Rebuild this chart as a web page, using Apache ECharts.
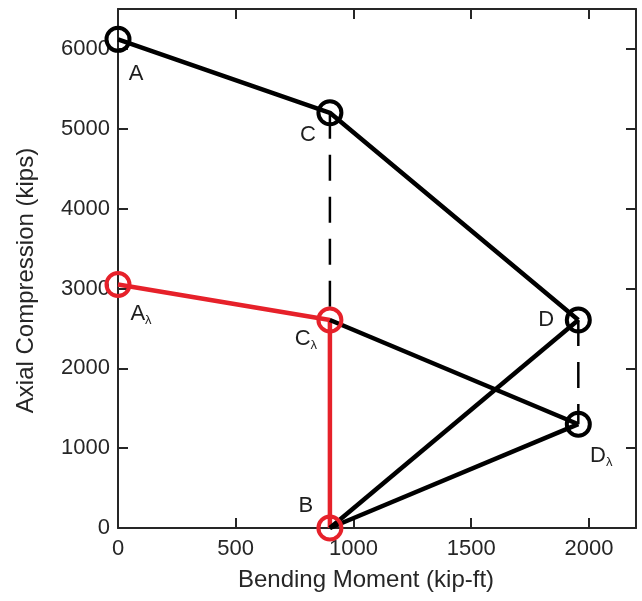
<!DOCTYPE html>
<html>
<head>
<meta charset="utf-8">
<script src="https://cdn.jsdelivr.net/npm/echarts@6/dist/echarts.min.js"></script>
<style>html,body{margin:0;padding:0;background:#fff;}#c{width:642px;height:601px;}</style>
</head>
<body>
<div id="c"></div>
<script>
// Points (Bending Moment kip-ft, Axial Compression kips)
const ptA  = [0, 6120];
const ptC  = [900, 5200];
const ptD  = [1955, 2605];
const ptDl = [1955, 1300];
const ptAl = [0, 3050];
const ptCl = [900, 2605];
const ptB  = [900, 0];

const blackPath1 = [ptA, ptC, ptD];
const blackPath2 = [ptB, ptD];
const blackPath3 = [ptB, ptDl];
const blackPath4 = [ptCl, ptDl];
const redPath    = [ptAl, ptCl, ptB];
const dash1 = [ptC, ptCl];
const dash2 = [ptD, ptDl];

const xTicks = {min: 0, max: 2200, interval: 500};
const yTicks = {min: 0, max: 6500, interval: 1000};

const axisColor = '#262626';
const textColor = '#1e1e1e';
const FONT = 'Liberation Sans, Arial, Helvetica, sans-serif';
const RED = '#e6212a';

const rich = {
  m: {fontSize: 22, fontFamily: FONT, color: textColor, lineHeight: 26, textBorderWidth: 0},
  s: {fontSize: 13, fontFamily: FONT, color: textColor, lineHeight: 26, verticalAlign: 'bottom', padding: [14, 0, 0, 0], textBorderWidth: 0}
};
function lab(text, dx, dy) {
  return {show: true, position: 'inside', offset: [dx, dy], formatter: text, rich: rich,
    fontSize: 22, fontFamily: FONT, color: textColor, textBorderWidth: 0, opacity: 1};
}

const blackMarks = [
  {value: ptA, label: lab('{m|A}', 18, 35)},
  {value: ptC, label: lab('{m|C}', -22, 22)},
  {value: ptD, label: lab('{m|D}', -32, 0)},
  {value: ptDl, label: lab('{m|D}{s|λ}', 23, 32)}
];
const redMarks = [
  {value: ptAl, label: lab('{m|A}{s|λ}', 23, 29)},
  {value: ptCl, label: lab('{m|C}{s|λ}', -24, 19)},
  {value: ptB, label: lab('{m|B}', -24, -22)}
];

function lineSeries(data, color, width, type) {
  return {type: 'line', data: data, symbol: 'none', silent: true, animation: false,
    lineStyle: {color: color, width: width, type: type || 'solid', opacity: 1}, z: 2};
}
function axisCommon(pos, showLabel, margin) {
  return {
    position: pos,
    axisLine: {show: true, onZero: false, lineStyle: {color: axisColor, width: 2}},
    axisTick: {show: true, inside: true, length: 10, lineStyle: {color: axisColor, width: 2}},
    axisLabel: {show: showLabel, fontSize: 22, fontFamily: FONT, color: axisColor, showMaxLabel: false,
      margin: margin || 8, formatter: function (v) { return String(v); }},
    splitLine: {show: false}
  };
}

const chart = echarts.init(document.getElementById('c'));
chart.setOption({
  animation: false,
  backgroundColor: '#fff',
  grid: {left: 118, right: 6, top: 9, bottom: 73, containLabel: false},
  xAxis: [
    Object.assign({type: 'value', min: xTicks.min, max: xTicks.max, interval: xTicks.interval,
      name: 'Bending Moment (kip-ft)', nameLocation: 'middle', nameGap: 40,
      nameTextStyle: {fontSize: 24, fontFamily: FONT, color: axisColor, padding: [0, 22, 0, 0]}}, axisCommon('bottom', true, 10)),
    Object.assign({type: 'value', min: xTicks.min, max: xTicks.max, interval: xTicks.interval}, axisCommon('top', false))
  ],
  yAxis: [
    Object.assign({type: 'value', min: yTicks.min, max: yTicks.max, interval: yTicks.interval,
      name: 'Axial Compression (kips)', nameLocation: 'middle', nameGap: 80,
      nameTextStyle: {fontSize: 24, fontFamily: FONT, color: axisColor, padding: [0, 0, 0, -24]}}, axisCommon('left', true, 8)),
    Object.assign({type: 'value', min: yTicks.min, max: yTicks.max, interval: yTicks.interval}, axisCommon('right', false))
  ],
  series: [
    lineSeries(dash1, '#000', 2.5, [26, 16]),
    lineSeries(dash2, '#000', 2.5, [26, 16]),
    lineSeries(redPath, RED, 4.5),
    lineSeries(blackPath1, '#000', 4.5),
    lineSeries(blackPath2, '#000', 4.5),
    lineSeries(blackPath3, '#000', 4.5),
    lineSeries(blackPath4, '#000', 4.5),
    {type: 'scatter', data: redMarks, symbol: 'circle', symbolSize: 23, silent: true, z: 3,
      itemStyle: {color: 'rgba(0,0,0,0)', borderColor: RED, borderWidth: 4, opacity: 1}},
    {type: 'scatter', data: blackMarks, symbol: 'circle', symbolSize: 23, silent: true, z: 3,
      itemStyle: {color: 'rgba(0,0,0,0)', borderColor: '#000', borderWidth: 4, opacity: 1}}
  ]
});
</script>
</body>
</html>
